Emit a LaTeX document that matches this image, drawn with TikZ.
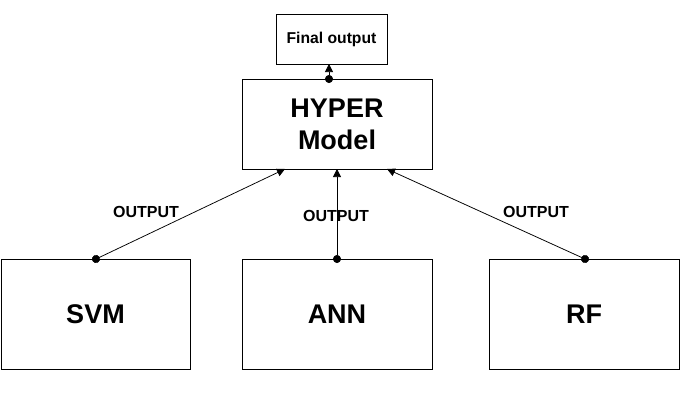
\documentclass[tikz,border=0pt]{standalone}
\usepackage{fontspec}
\setmainfont{Liberation Sans}
\usetikzlibrary{arrows.meta}
\begin{document}
\begin{tikzpicture}[x=1pt,y=-1pt,
  box/.style={draw,line width=0.9pt,inner sep=0pt,font=\bfseries},
  conn/.style={line width=0.75pt,{Circle[length=8pt]}-{Triangle[length=8pt,width=8pt]}},
  lbl/.style={font=\bfseries\fontsize{16}{18}\selectfont}]
\useasboundingbox (0,0) rectangle (681,407);
\node[box,minimum width=111pt,minimum height=50pt,font=\bfseries\fontsize{15.7}{18}\selectfont] (fo) at (331.5,39) {Final output};
\node[box,minimum width=190pt,minimum height=90pt,align=center,font=\bfseries\fontsize{27}{32}\selectfont] (hy) at (337,124) {HYPER\\Model};
\node[box,minimum width=189pt,minimum height=110pt,font=\bfseries\fontsize{27}{30}\selectfont] (svm) at (95.5,314) {SVM};
\node[box,minimum width=190pt,minimum height=110pt,font=\bfseries\fontsize{27}{30}\selectfont] (ann) at (337,314) {ANN};
\node[box,minimum width=190pt,minimum height=110pt,font=\bfseries\fontsize{27}{30}\selectfont] (rf) at (584,314) {RF};
\coordinate (s1) at (96,259);
\coordinate (a1) at (337,259);
\coordinate (r1) at (585,259);
\coordinate (h1) at (285,169);
\coordinate (h2) at (337,169);
\coordinate (h3) at (387,169);
\coordinate (h4) at (329,79);
\coordinate (f1) at (329,64);
\draw[conn,shorten <=-4pt] (s1) -- (h1);
\draw[conn,shorten <=-4pt] (a1) -- (h2);
\draw[conn,shorten <=-4pt] (r1) -- (h3);
\draw[conn,shorten <=-4pt] (h4) -- (f1);
\node[lbl] (l1) at (146,212) {OUTPUT};
\node[lbl] (l2) at (336,216) {OUTPUT};
\node[lbl] (l3) at (536,212) {OUTPUT};
\end{tikzpicture}
\end{document}
